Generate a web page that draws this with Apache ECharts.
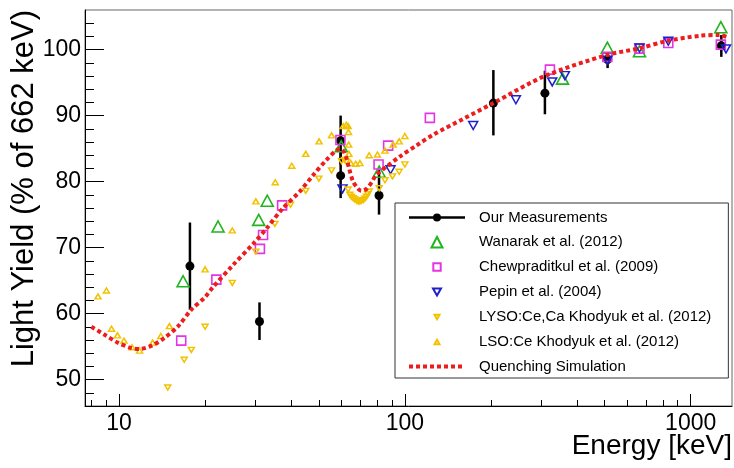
<!DOCTYPE html>
<html>
<head>
<meta charset="utf-8">
<script src="https://cdn.jsdelivr.net/npm/echarts@6/dist/echarts.min.js"></script>
<style>
  html, body { margin: 0; padding: 0; background: #fff; }
  #chart { width: 734px; height: 468px; }
</style>
</head>
<body>
<div id="chart"></div>
<script>
// ---- Our measurements (energy in keV, light yield in % of 662 keV, error band) ----
const ourEnergy = [17.7, 31.0, 59.6, 59.6, 81.2, 204, 309, 512, 1280];
const ourYield  = [67.2, 58.8, 86.2, 80.9, 77.9, 91.9, 93.4, 98.5, 100.6];
const ourLow    = [60.6, 56.0, 82.6, 77.5, 75.0, 87.0, 90.2, 97.2, 98.9];
const ourHigh   = [73.8, 61.7, 90.0, 84.4, 81.8, 96.9, 96.8, 99.6, 102.2];

// ---- Wanarak et al. (2012) ----
const wanarakEnergy = [16.75, 22.2, 30.8, 33.0, 59.9, 81.3, 356, 511, 662, 1275];
const wanarakYield  = [64.9, 73.2, 74.2, 77.1, 85.35, 81.5, 95.6, 100.3, 99.75, 103.4];

// ---- Chewpraditkul et al. (2009) ----
const chewEnergy = [16.5, 21.9, 31.1, 31.9, 37.2, 59.5, 80.9, 87.4, 122.3, 321.7, 511, 662, 835, 1275];
const chewYield  = [55.9, 65.15, 69.8, 71.9, 76.4, 86.3, 82.6, 85.45, 89.65, 96.97, 98.9, 100.15, 101.0, 100.76];

// ---- Pepin et al. (2004) ----
const pepinEnergy = [60.5, 89.1, 173.4, 244.6, 327.8, 363, 511, 662, 835, 1329];
const pepinYield  = [78.9, 81.8, 88.5, 92.4, 95.1, 96.06, 98.4, 100.25, 101.26, 100.1];

// ---- LYSO:Ce,Ca Khodyuk et al. (2012) ----
const lysoEnergy = [14.8, 16.9, 17.9, 20.0, 24.9, 30.1, 35.1, 39.8, 45.0, 50.0, 55.4, 60.0, 61.5, 62.4,
                    63.3, 64.2, 65.0, 65.9, 66.8, 67.8, 68.7, 69.6, 70.5, 71.5, 72.4, 73.4, 74.2, 75.0,
                    81.3, 85.2, 90.5, 95.5, 100];
const lysoYield  = [48.8, 53.0, 54.5, 58.0, 64.65, 69.4, 73.6, 76.5, 78.6, 80.45, 81.7, 83.1, 83.3, 83.0,
                    78.8, 78.0, 77.7, 77.5, 77.3, 77.1, 77.0, 77.0, 77.1, 77.2, 77.4, 77.7, 78.1, 78.5,
                    79.0, 80.2, 80.8, 81.5, 82.6];

// ---- LSO:Ce Khodyuk et al. (2012) ----
const lsoEnergy = [8.44, 9.03, 9.41, 9.87, 10.4, 11.1, 11.8, 13.1, 14.0, 15.0, 20.0, 24.9, 30.1, 35.2, 40.2,
                   45.0, 50.1, 55.4, 60.8, 62.4, 63.3, 63.5, 63.6, 63.7, 64.7, 67.3, 69.6, 75.0, 80.2,
                   85.2, 91.0, 95.5, 100];
const lsoYield  = [62.6, 63.5, 57.7, 56.7, 55.9, 54.9, 54.4, 55.6, 56.6, 58.1, 66.7, 72.6, 77.0, 79.9, 82.4,
                   84.2, 86.1, 87.0, 88.4, 88.6, 88.4, 87.5, 85.6, 84.2, 82.8, 82.7, 82.8, 84.0, 84.1,
                   84.7, 85.6, 86.1, 86.9];

// ---- Quenching simulation curve ----
const simEnergy = [8.0, 8.9, 9.9, 11.0, 11.8, 13.0, 14.4, 16.1, 17.9, 20.0, 21.3, 25.1, 29.5, 32.8, 37.5,
                   42.9, 47.8, 53.2, 57.5, 59.5, 61.0, 62.4, 63.8, 65.9, 68.7, 70.4, 73.4, 76.8, 79.3,
                   86.5, 96, 110, 125.6, 160, 204, 309, 511, 662, 824, 1078, 1262, 1355];
const simYield  = [58.0, 56.8, 55.6, 54.8, 54.65, 55.15, 56.3, 58.1, 60.6, 62.5, 64.0, 67.4, 70.6, 72.9, 76.0,
                   78.5, 81.0, 83.3, 84.7, 85.0, 84.6, 83.6, 82.0, 80.0, 78.9, 78.6, 78.9, 80.0, 81.0,
                   82.3, 83.8, 85.5, 87.1, 89.5, 91.9, 96.0, 99.2, 100.2, 101.3, 102.1, 102.2, 101.8];

// ---- Axis ticks ----
const xMajorTicks = [10, 100, 1000];
const xMinorTicks = [8, 9, 20, 30, 40, 50, 60, 70, 80, 90, 200, 300, 400, 500, 600, 700, 800, 900];
const yMajorTicks = [50, 60, 70, 80, 90, 100];
const yMinorTicks = [48, 52, 54, 56, 58, 62, 64, 66, 68, 72, 74, 76, 78, 82, 84, 86, 88, 92, 94, 96, 98, 102, 104];

const FONT = '"Liberation Sans", Arial, Helvetica, sans-serif';
const C_GREEN = '#1fb51f', C_MAGENTA = '#e435e4', C_BLUE = '#1f1fcc', C_YELLOW = '#f2c200', C_RED = '#ee1c1c';

const zip = (xs, ys) => xs.map((x, i) => [x, ys[i]]);

// Legend icons: outer moveTo points pad the box so each marker keeps its own size
const ICON_MEAS = 'path://M0,0 M56,14 M0,5.7 L56,5.7 L56,8.3 L0,8.3 Z M24,7 A4,4 0 1 1 32,7 A4,4 0 1 1 24,7 Z';
const ICON_TRI  = 'path://M0,0 M14,14 M1.5,12.5 L12.5,12.5 L7,2 Z';
const ICON_SQ   = 'path://M0,0 M14,14 M3.3,3.3 L10.7,3.3 L10.7,10.7 L3.3,10.7 Z';
const ICON_DTRI = 'path://M0,0 M14,14 M3,3.5 L11,3.5 L7,10.5 Z';
const ICON_YD   = 'path://M0,0 M14,14 M4.5,4.8 L9.5,4.8 L7,9.2 Z';
const ICON_YU   = 'path://M0,0 M14,14 M4.5,9.2 L9.5,9.2 L7,4.8 Z';

const chart = echarts.init(document.getElementById('chart'), null, { renderer: 'canvas' });

const xMin = 7.6, xMax = 1395, yMin = 46, yMax = 106;

chart.setOption({
  animation: false,
  backgroundColor: '#fff',
  textStyle: { fontFamily: FONT },
  grid: {
    left: 85, right: 2, top: 10, bottom: 62,
    show: true, borderColor: '#666', borderWidth: 1, backgroundColor: 'transparent',
    containLabel: false, outerBoundsMode: 'none'
  },
  xAxis: [
    {
      type: 'log', min: xMin, max: xMax, position: 'bottom',
      axisLine: { show: true, onZero: false, lineStyle: { color: '#000', width: 1 } },
      axisTick: { show: true, inside: true, length: 12, customValues: xMajorTicks, lineStyle: { color: '#000', width: 1 } },
      axisLabel: { show: true, customValues: xMajorTicks, fontSize: 23, color: '#000', margin: 6, fontFamily: FONT,
                   formatter: v => String(Math.round(v)) },
      splitLine: { show: false }, minorTick: { show: false }
    },
    {
      type: 'log', min: xMin, max: xMax, position: 'bottom',
      axisLine: { show: false },
      axisTick: { show: true, inside: true, length: 6, customValues: xMinorTicks, lineStyle: { color: '#000', width: 1 } },
      axisLabel: { show: false },
      splitLine: { show: false }
    }
  ],
  yAxis: [
    {
      type: 'value', min: yMin, max: yMax, position: 'left',
      axisLine: { show: true, onZero: false, lineStyle: { color: '#000', width: 1 } },
      axisTick: { show: true, inside: true, length: 19, customValues: yMajorTicks, lineStyle: { color: '#000', width: 1 } },
      axisLabel: { show: true, customValues: yMajorTicks, fontSize: 23, color: '#000', margin: 4, fontFamily: FONT },
      splitLine: { show: false }
    },
    {
      type: 'value', min: yMin, max: yMax, position: 'left', offset: 0,
      axisLine: { show: false },
      axisTick: { show: true, inside: true, length: 9, customValues: yMinorTicks, lineStyle: { color: '#000', width: 1 } },
      axisLabel: { show: false },
      splitLine: { show: false }
    }
  ],
  legend: {
    orient: 'vertical', left: 395, top: 203,
    padding: [7, 17, 4, 12],
    itemWidth: 56, itemHeight: 14, itemGap: 9,
    backgroundColor: '#fff', borderColor: '#333', borderWidth: 1, borderRadius: 0,
    selectedMode: false,
    textStyle: { fontSize: 15, color: '#000', fontFamily: FONT, padding: [0, 0, 0, 9] },
    data: [
      { name: 'Our Measurements', icon: ICON_MEAS },
      { name: 'Wanarak et al. (2012)', icon: ICON_TRI },
      { name: 'Chewpraditkul et al. (2009)', icon: ICON_SQ },
      { name: 'Pepin et al. (2004)', icon: ICON_DTRI },
      { name: 'LYSO:Ce,Ca Khodyuk et al. (2012)', icon: ICON_YD },
      { name: 'LSO:Ce Khodyuk et al. (2012)', icon: ICON_YU },
      { name: 'Quenching Simulation',
        itemStyle: { opacity: 0, color: 'rgba(0,0,0,0)', borderColor: 'rgba(0,0,0,0)', borderWidth: 0 },
        lineStyle: { width: 4, type: [4, 3], color: C_RED, opacity: 1 } }
    ],
    z: 20
  },
  graphic: [
    {
      type: 'text', x: 24.5, y: 10, rotation: Math.PI / 2, z: 100,
      style: { text: 'Light Yield (% of 662 keV)', font: '31px ' + FONT, fill: '#000',
               align: 'right', textAlign: 'right', verticalAlign: 'middle', textVerticalAlign: 'middle' }
    },
    {
      type: 'text', x: 732, y: 446, z: 100,
      style: { text: 'Energy [keV]', font: '28px ' + FONT, fill: '#000',
               align: 'right', textAlign: 'right', verticalAlign: 'middle', textVerticalAlign: 'middle' }
    }
  ],
  series: [
    {
      name: 'measErrors', type: 'custom', silent: true, z: 2,
      data: ourEnergy.map((e, i) => [e, ourLow[i], ourHigh[i]]),
      encode: { x: 0, y: [1, 2] },
      renderItem: (params, api) => {
        const lo = api.coord([api.value(0), api.value(1)]);
        const hi = api.coord([api.value(0), api.value(2)]);
        return { type: 'line', shape: { x1: lo[0], y1: lo[1], x2: hi[0], y2: hi[1] },
                 style: { stroke: '#000', lineWidth: 2.5 } };
      }
    },
    {
      name: 'Our Measurements', type: 'scatter', z: 3,
      data: zip(ourEnergy, ourYield), symbol: 'circle', symbolSize: 9,
      itemStyle: { color: '#000', opacity: 1 }
    },
    {
      name: 'Wanarak et al. (2012)', type: 'scatter', z: 3,
      data: zip(wanarakEnergy, wanarakYield), symbol: 'triangle', symbolSize: [12, 11],
      itemStyle: { color: 'rgba(0,0,0,0)', borderColor: C_GREEN, borderWidth: 1.6, opacity: 1 }
    },
    {
      name: 'Chewpraditkul et al. (2009)', type: 'scatter', z: 3,
      data: zip(chewEnergy, chewYield), symbol: 'rect', symbolSize: 9,
      itemStyle: { color: 'rgba(0,0,0,0)', borderColor: C_MAGENTA, borderWidth: 1.6, opacity: 1 }
    },
    {
      name: 'Pepin et al. (2004)', type: 'scatter', z: 3,
      data: zip(pepinEnergy, pepinYield), symbol: 'triangle', symbolRotate: 180, symbolSize: [9, 8],
      itemStyle: { color: 'rgba(0,0,0,0)', borderColor: C_BLUE, borderWidth: 1.5, opacity: 1 }
    },
    {
      name: 'LYSO:Ce,Ca Khodyuk et al. (2012)', type: 'scatter', z: 3,
      data: zip(lysoEnergy, lysoYield), symbol: 'triangle', symbolRotate: 180, symbolSize: [6, 5],
      itemStyle: { color: 'rgba(0,0,0,0)', borderColor: C_YELLOW, borderWidth: 1.5, opacity: 1 }
    },
    {
      name: 'LSO:Ce Khodyuk et al. (2012)', type: 'scatter', z: 3,
      data: zip(lsoEnergy, lsoYield), symbol: 'triangle', symbolSize: [6, 5],
      itemStyle: { color: 'rgba(0,0,0,0)', borderColor: C_YELLOW, borderWidth: 1.5, opacity: 1 }
    },
    {
      name: 'Quenching Simulation', type: 'line', z: 4,
      data: zip(simEnergy, simYield), smooth: 0.3, showSymbol: false, symbol: 'none',
      lineStyle: { color: C_RED, width: 4, type: [4, 3] },
      itemStyle: { color: C_RED }
    }
  ]
});
</script>
</body>
</html>
